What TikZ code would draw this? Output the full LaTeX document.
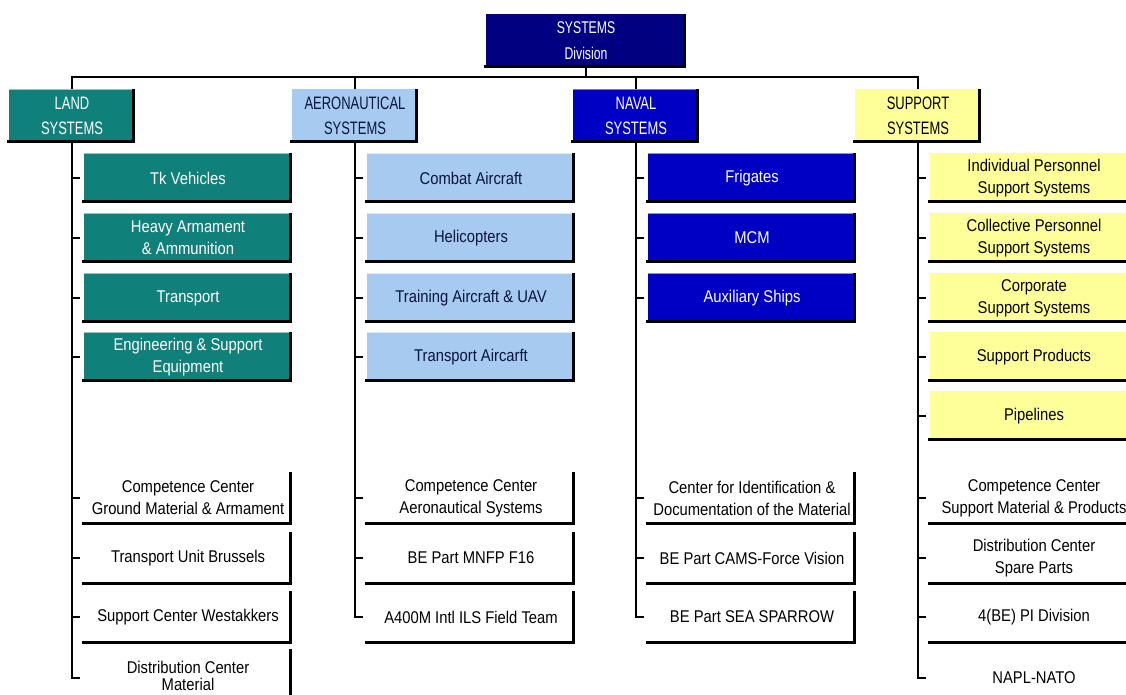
\documentclass[tikz,border=0pt]{standalone}
\usepackage{fontspec}
\setmainfont[FakeStretch=0.87]{Liberation Sans}
\newfontfamily\hdrfont[FakeStretch=0.72]{Liberation Sans}
\definecolor{landc}{RGB}{16,128,122}
\definecolor{aeroc}{RGB}{166,202,240}
\definecolor{navalc}{RGB}{0,0,196}
\definecolor{topc}{RGB}{0,0,128}
\definecolor{suppc}{RGB}{255,255,153}
\definecolor{aerotext}{RGB}{10,20,60}

% black drop edge along the right and bottom sides of a box
\newcommand\dropshade[1]{%
  \draw[shade] ([xshift=-1.5pt,yshift=-2pt]#1.north east) -- ([xshift=-1.5pt,yshift=1.5pt]#1.south east) -- ([yshift=1.5pt]#1.south west);}
% light top rim of a coloured box
\newcommand\hilite[2]{%
  \draw[line width=1.2pt, #2] ([yshift=-0.6pt]#1.north west) -- ([xshift=-3pt,yshift=-0.6pt]#1.north east);}

\begin{document}
\begin{tikzpicture}[x=1pt,y=-1pt,
  box/.style={minimum width=208pt, minimum height=50pt, inner sep=0pt, align=center,
    font=\fontsize{17}{22}\selectfont},
  wbox/.style={box, minimum height=53pt, fill=white, text=black},
  hdr/.style={minimum width=126pt, minimum height=54pt, inner sep=0pt, align=center,
    font=\hdrfont\fontsize{18}{25}\selectfont},
  topbox/.style={minimum width=200pt, minimum height=54pt, inner sep=0pt, align=center,
    font=\hdrfont\fontsize{17}{26}\selectfont, fill=topc, text=white},
  link/.style={line width=1.6pt},
  tick/.style={link, shorten >=4pt},
  shade/.style={line width=3pt, line cap=rect}
]
\path[use as bounding box, fill=white] (0,0) rectangle (1126,695);
\clip (0,0) rectangle (1126,695);

% division head and the four branches
\node[topbox] (div) at (586,41) {SYSTEMS\\Division};
\dropshade{div}
\node[hdr, fill=landc, text=white] (land) at (72,116) {LAND\\SYSTEMS};
\node[hdr, fill=aeroc, text=aerotext] (aero) at (355,116) {AERONAUTICAL\\SYSTEMS};
\node[hdr, fill=navalc, text=white] (naval) at (636,116) {NAVAL\\SYSTEMS};
\node[hdr, fill=suppc, text=black] (supp) at (918,116) {SUPPORT\\SYSTEMS};
\foreach \h in {land,aero,naval,supp} {\dropshade{\h}}
\hilite{land}{landc!45!white}
\hilite{naval}{navalc!55!white}

\coordinate (bar) at (586,77);
\draw[link] (div.south) -- (bar);
\draw[link] (land.north) |- (bar) -| (supp.north);
\draw[link] (aero.north) -- (aero.north |- bar);
\draw[link] (naval.north) -- (naval.north |- bar);

% land systems
\foreach \nm/\yy/\txt in {l1/178/{Tk Vehicles}, l2/238/{Heavy Armament\\\& Ammunition},
    l3/298/{Transport}, l4/357/{Engineering \& Support\\Equipment}} {
  \node[box, fill=landc, text=white] (\nm) at (188,\yy) {\txt};
  \dropshade{\nm}
  \hilite{\nm}{landc!45!white}
  \draw[tick] (land.south |- \nm.west) -- (\nm.west);
}
\foreach \nm/\yy/\txt in {lw1/498/{Competence Center\\Ground Material \& Armament},
    lw2/558/{Transport Unit Brussels}, lw3/617/{Support Center Westakkers}} {
  \node[wbox] (\nm) at (188,\yy) {\txt};
  \dropshade{\nm}
  \draw[tick] (land.south |- \nm.west) -- (\nm.west);
}
\node[wbox, minimum height=58pt] (lw4) at (188,678) {\raisebox{4pt}{\shortstack{Distribution Center\\[2pt]Material}}};
\dropshade{lw4}
\draw[link, shorten >=4pt] (land.south) |- (lw4.west);

% aeronautical systems
\foreach \nm/\yy/\txt in {a1/178/{Combat Aircraft}, a2/238/{Helicopters},
    a3/298/{Training Aircraft \& UAV}, a4/357/{Transport Aircarft}} {
  \node[box, fill=aeroc, text=aerotext] (\nm) at (471,\yy) {\txt};
  \dropshade{\nm}
  \hilite{\nm}{aeroc!40!white}
  \draw[tick] (aero.south |- \nm.west) -- (\nm.west);
}
\foreach \nm/\yy/\txt in {aw1/498/{Competence Center\\Aeronautical Systems},
    aw2/558/{BE Part MNFP F16}, aw3/617/{A400M Intl ILS Field Team}} {
  \node[wbox] (\nm) at (471,\yy) {\txt};
  \dropshade{\nm}
}
\foreach \nm in {aw1,aw2} {\draw[tick] (aero.south |- \nm.west) -- (\nm.west);}
\draw[link, shorten >=4pt] (aero.south) |- (aw3.west);

% naval systems
\foreach \nm/\yy/\txt in {n1/178/{Frigates}, n2/238/{MCM}, n3/298/{Auxiliary Ships}} {
  \node[box, fill=navalc, text=white] (\nm) at (752,\yy) {\txt};
  \dropshade{\nm}
  \hilite{\nm}{navalc!45!white}
  \draw[tick] (naval.south |- \nm.west) -- (\nm.west);
}
\foreach \nm/\yy/\txt in {nw1/498/{Center for Identification \&\\Documentation of the Material},
    nw2/558/{BE Part CAMS-Force Vision}, nw3/617/{BE Part SEA SPARROW}} {
  \node[wbox] (\nm) at (752,\yy) {\txt};
  \dropshade{\nm}
}
\foreach \nm in {nw1,nw2} {\draw[tick] (naval.south |- \nm.west) -- (\nm.west);}
\draw[link, shorten >=4pt] (naval.south) |- (nw3.west);

% support systems
\foreach \nm/\yy/\txt in {s1/178/{Individual Personnel\\Support Systems},
    s2/238/{Collective Personnel\\Support Systems}, s3/298/{Corporate\\Support Systems},
    s4/357/{Support Products}, s5/416/{Pipelines}} {
  \node[box, fill=suppc, text=black] (\nm) at (1034,\yy) {\txt};
  \dropshade{\nm}
  \draw[tick] (supp.south |- \nm.west) -- (\nm.west);
}
\foreach \nm/\yy/\txt in {sw1/498/{Competence Center\\Support Material \& Products},
    sw2/558/{Distribution Center\\Spare Parts}, sw3/617/{4(BE) PI Division},
    sw4/678/{NAPL-NATO}} {
  \node[wbox] (\nm) at (1034,\yy) {\txt};
  \dropshade{\nm}
}
\foreach \nm in {sw1,sw2,sw3} {\draw[tick] (supp.south |- \nm.west) -- (\nm.west);}
\draw[link, shorten >=4pt] (supp.south) |- (sw4.west);
\end{tikzpicture}
\end{document}
